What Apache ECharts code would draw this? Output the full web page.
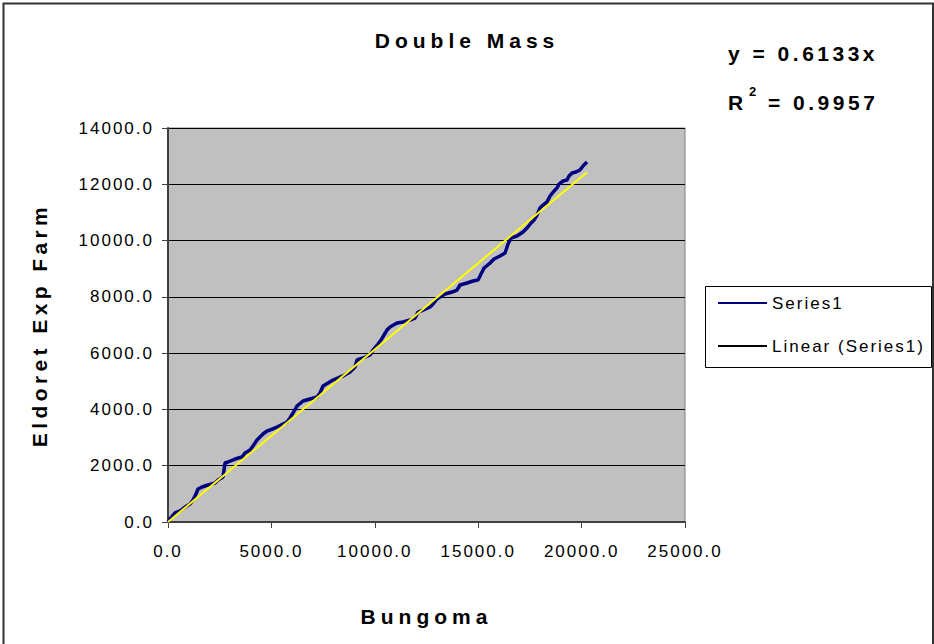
<!DOCTYPE html>
<html><head><meta charset="utf-8">
<script src="https://cdn.jsdelivr.net/npm/echarts@6/dist/echarts.min.js"></script>
<style>
html,body{margin:0;padding:0;background:#fff;}
#c{width:934px;height:644px;}
text[style*="lsA"]{letter-spacing:2px;}
text[style*="lsB"]{letter-spacing:5px;}
text[style*="lsC"]{letter-spacing:3.5px;}
text[style*="lsD"]{letter-spacing:4.4px;}
</style></head><body><div id="c"></div>
<script>
// Cumulative rainfall, Bungoma (x) vs Eldoret Exp Farm (y)
const bungoma = [0,97,339,580,822,1064,1209,1354,1451,1644,1934,2273,2418,2660,2757,2902,3240,3579,3724,3966,4111,4304,4594,4788,5175,5561,5755,5900,6045,6238,6529,6867,7206,7351,7496,7738,7979,8318,8463,8802,9043,9140,9430,9769,9914,10156,10301,10446,10591,10736,11074,11365,11703,11945,12090,12332,12670,12815,13009,13154,13396,13734,13976,14121,14460,14750,14992,15137,15282,15572,15765,16055,16297,16442,16587,16877,17168,17361,17555,17700,17845,17990,18135,18328,18474,18667,18812,18909,19102,19296,19392,19537,19731,19924,20069,20263];
const eldoret = [0,107,320,391,533,640,782,995,1172,1244,1315,1386,1492,1599,2096,2132,2238,2309,2452,2558,2700,2913,3127,3233,3340,3482,3553,3695,3873,4121,4299,4370,4441,4583,4832,4939,5045,5152,5187,5330,5507,5756,5827,5934,6111,6324,6466,6644,6822,6928,7070,7106,7177,7248,7461,7532,7639,7746,7923,7994,8101,8172,8243,8421,8492,8563,8598,8811,9025,9202,9344,9451,9558,9877,10091,10162,10304,10446,10624,10730,10908,11156,11263,11370,11583,11760,11867,12009,12116,12151,12293,12400,12435,12506,12648,12791];
// Linear trendline end points (y = 0.6133x)
const trendX = [0, 20263];
const trendY = [0, 12427];
const xAxisRange = [0, 25000, 5000];
const yAxisRange = [0, 14000, 2000];
const seriesNames = ['Series1', 'Linear (Series1)'];
const titleText = 'Double Mass';
const xName = 'Bungoma';
const yName = 'Eldoret Exp Farm';
const eqLine1 = 'y = 0.6133x';
const eqR = 'R';
const eqSup = '2';
const eqLine2 = '= 0.9957';

const FN = 'Liberation Sans, lsA';
const chart = echarts.init(document.getElementById('c'), null, {renderer: 'svg'});
const fmt = v => Number(v).toFixed(1);
chart.setOption({
  animation: false,
  backgroundColor: '#fff',
  title: {
    text: titleText, left: 'center', top: 30, padding: 0,
    textStyle: {fontSize: 21, fontWeight: 'bold', fontFamily: 'Liberation Sans, lsB', color: '#000'}
  },
  grid: {left: 168, top: 128, width: 517, height: 394, show: true,
    backgroundColor: '#C0C0C0', borderColor: '#808080', borderWidth: 1},
  legend: {
    orient: 'vertical', left: 713, top: 288, itemWidth: 49, itemHeight: 2, itemGap: 23,
    icon: 'rect',
    textStyle: {fontSize: 17, fontFamily: FN, color: '#000', lineHeight: 20},
    data: [
      {name: seriesNames[0], itemStyle: {color: '#000080'}},
      {name: seriesNames[1], itemStyle: {color: '#000000'}}
    ]
  },
  xAxis: {
    type: 'value', min: xAxisRange[0], max: xAxisRange[1], interval: xAxisRange[2],
    name: xName, nameLocation: 'middle', nameGap: 84,
    nameTextStyle: {fontSize: 21, fontWeight: 'bold', fontFamily: 'Liberation Sans, lsB', color: '#000'},
    axisLine: {show: true, onZero: false, lineStyle: {color: '#404040', width: 2}},
    axisTick: {show: true, length: 6, lineStyle: {color: '#404040', width: 1}},
    axisLabel: {formatter: fmt, fontSize: 17, fontFamily: FN, color: '#000', margin: 21},
    splitLine: {show: false}
  },
  yAxis: {
    type: 'value', min: yAxisRange[0], max: yAxisRange[1], interval: yAxisRange[2],
    name: yName, nameLocation: 'middle', nameRotate: 90, nameGap: 118,
    nameTextStyle: {fontSize: 21, fontWeight: 'bold', fontFamily: 'Liberation Sans, lsD', color: '#000'},
    axisLine: {show: true, onZero: false, lineStyle: {color: '#404040', width: 2}},
    axisTick: {show: true, length: 6, lineStyle: {color: '#404040', width: 1}},
    axisLabel: {formatter: fmt, fontSize: 17, fontFamily: FN, color: '#000', margin: 14},
    splitLine: {show: true, lineStyle: {color: '#000', width: 1}}
  },
  series: [
    {name: seriesNames[0], type: 'line', showSymbol: false, symbol: 'none',
     lineStyle: {color: '#000080', width: 3.5}, itemStyle: {color: '#000080'},
     data: bungoma.map((x, i) => [x, eldoret[i]]), z: 2},
    {name: seriesNames[1], type: 'line', showSymbol: false, symbol: 'none',
     lineStyle: {color: '#FFFF00', width: 2}, itemStyle: {color: '#000'},
     data: trendX.map((x, i) => [x, trendY[i]]), z: 3}
  ],
  graphic: [
    {type: 'rect', shape: {x: 3.5, y: 3.5, width: 929.5, height: 700}, silent: true,
     style: {fill: 'none', stroke: '#333', lineWidth: 2}, z: 100},
    {type: 'rect', shape: {x: 705.5, y: 286.5, width: 226, height: 81}, silent: true,
     style: {fill: 'none', stroke: '#000', lineWidth: 1}, z: 100},
    {type: 'text', x: 728, y: 53, silent: true,
     style: {text: eqLine1, fontSize: 21, fontWeight: 'bold', fontFamily: 'Liberation Sans, lsC', fill: '#000', textAlign: 'left', textVerticalAlign: 'middle', verticalAlign: 'middle'}},
    {type: 'text', x: 728, y: 102, silent: true,
     style: {text: eqR, fontSize: 21, fontWeight: 'bold', fontFamily: 'Liberation Sans, lsC', fill: '#000', textAlign: 'left', textVerticalAlign: 'middle', verticalAlign: 'middle'}},
    {type: 'text', x: 749, y: 91, silent: true,
     style: {text: eqSup, fontSize: 13, fontWeight: 'bold', fontFamily: 'Liberation Sans', fill: '#000', textAlign: 'left', textVerticalAlign: 'middle', verticalAlign: 'middle'}},
    {type: 'text', x: 768, y: 102, silent: true,
     style: {text: eqLine2, fontSize: 21, fontWeight: 'bold', fontFamily: 'Liberation Sans, lsC', fill: '#000', textAlign: 'left', textVerticalAlign: 'middle', verticalAlign: 'middle'}}
  ]
});
</script></body></html>
